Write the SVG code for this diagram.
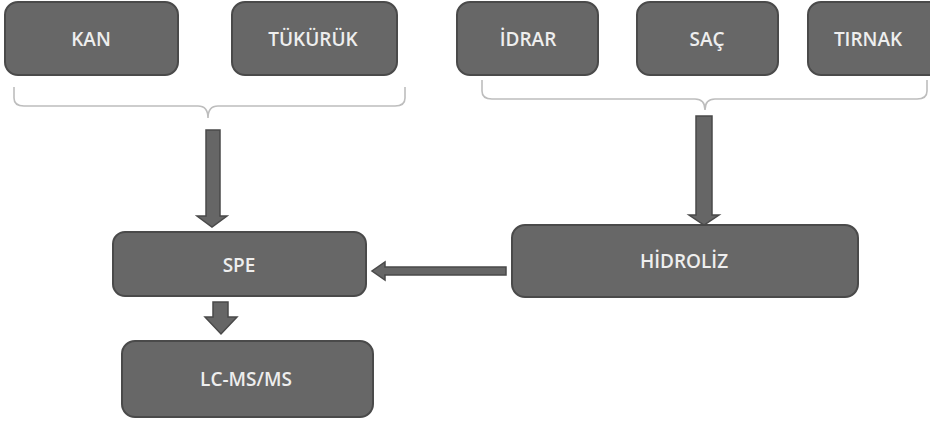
<svg xmlns="http://www.w3.org/2000/svg" width="930" height="421" viewBox="0 0 930 421">
<style>
.box{fill:#676767;stroke:#4a4a4a;stroke-width:2}
.lbl{fill:#eeeeee;font-family:"Open Sans","DejaVu Sans",sans-serif;font-size:19px;font-weight:600;text-anchor:middle}
.brace{fill:none;stroke:#bdbdbd;stroke-width:1.6}
.arr{fill:#666666;stroke:#4a4a4a;stroke-width:1.5;stroke-linejoin:miter}
</style>
<rect width="930" height="421" fill="#ffffff"/>
<g id="kan"><rect class="box" x="5" y="2" width="173" height="73" rx="13"/><text class="lbl" x="91" y="46">KAN</text></g>
<g id="tukuruk"><rect class="box" x="232" y="2" width="165" height="73" rx="13"/><text class="lbl" x="313" y="46">TÜKÜRÜK</text></g>
<g id="idrar"><rect class="box" x="457" y="2" width="141" height="73" rx="13"/><text class="lbl" x="528" y="46">İDRAR</text></g>
<g id="sac"><rect class="box" x="637" y="2" width="141" height="73" rx="13"/><text class="lbl" x="707" y="46">SAÇ</text></g>
<g id="tirnak"><rect class="box" x="808" y="2" width="140" height="73" rx="13"/><text class="lbl" x="868" y="46">TIRNAK</text></g>
<g id="spe"><rect class="box" x="113" y="232" width="253" height="64" rx="12"/><text class="lbl" x="239" y="272">SPE</text></g>
<g id="hidroliz"><rect class="box" x="512" y="225" width="346" height="72" rx="13"/><text class="lbl" x="684" y="268">HİDROLİZ</text></g>
<g id="lcmsms"><rect class="box" x="122" y="341" width="251" height="76" rx="13"/><text class="lbl" x="246" y="386">LC-MS/MS</text></g>
<g id="connectors">
<path class="brace" d="M14,87 V98 Q14,106 24,106 H198 Q208,106 208,118 Q208,106 218,106 H395 Q405,106 405,98 V87"/>
<path class="brace" d="M482,80 V91 Q482,99 492,99 H695 Q705,99 705,110 Q705,99 715,99 H917 Q927,99 927,91 V80"/>
<path class="arr" d="M206,130 H220 V216 H227 L212,227 L197,216 H206 Z"/>
<path class="arr" d="M696,116 H712 V215 H719 L704,225 L689,215 H696 Z"/>
<path class="arr" d="M506,267 V275 H385 V280 L372,271 L385,262 V267 Z"/>
<path class="arr" d="M213,302 H228 V317 H237 L221,334 L205,317 H213 Z"/>
</g>
</svg>
